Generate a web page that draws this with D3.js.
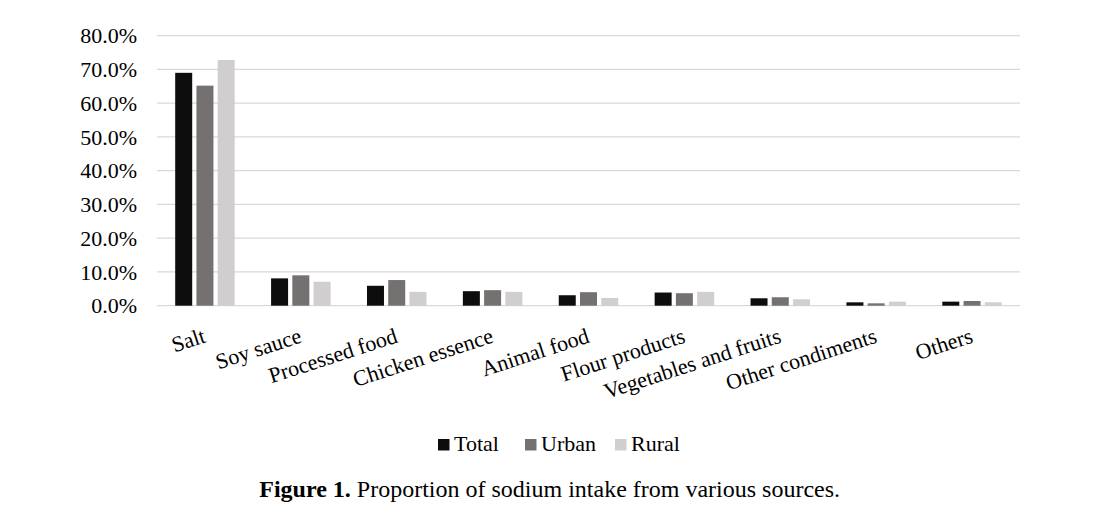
<!DOCTYPE html>
<html><head><meta charset="utf-8">
<script src="https://cdn.jsdelivr.net/npm/d3@7"></script>
<style>body{margin:0;background:#fff}svg{display:block}</style>
</head><body>
<script>
const categories = ["Salt","Soy sauce","Processed food","Chicken essence","Animal food","Flour products","Vegetables and fruits","Other condiments","Others"];
const seriesNames = ["Total","Urban","Rural"];
const total = [69.0, 8.1, 5.9, 4.3, 3.1, 3.9, 2.2, 1.0, 1.2];
const urban = [65.2, 9.0, 7.6, 4.6, 4.0, 3.7, 2.5, 0.7, 1.4];
const rural = [72.8, 7.1, 4.1, 4.1, 2.3, 4.1, 1.9, 1.2, 1.0];
const yTicks = [0,10,20,30,40,50,60,70,80];
const colors = ["#0d0d0d","#767171","#d0cece"];
const caption = {bold:"Figure 1.", rest:" Proportion of sodium intake from various sources."};

const W=1104,H=516;
const svg=d3.select("body").append("svg").attr("width",W).attr("height",H);
const x0=157,x1=1020,yTop=35.7,yBot=305.7;
const x=d3.scaleBand().domain(categories).range([x0,x1]);
const xs=d3.scaleBand().domain(seriesNames).range([0,59.5]).paddingInner(0.2);
const y=d3.scaleLinear().domain([0,80]).range([yBot,yTop]);
const font="'Liberation Serif','Times New Roman',serif";
const fsz=22;

svg.append("g").selectAll("line").data(yTicks).join("line")
 .attr("x1",x0).attr("x2",x1).attr("y1",d=>y(d)).attr("y2",d=>y(d))
 .attr("stroke","#d9d9d9").attr("stroke-width",1.3);
svg.append("g").selectAll("text").data(yTicks).join("text")
 .attr("x",137).attr("y",d=>y(d)).attr("dy","0.35em").attr("text-anchor","end")
 .attr("font-family",font).attr("font-size",fsz).attr("fill","#000")
 .text(d=>d.toFixed(1)+"%");

const data=[total,urban,rural];
const g=svg.append("g");
categories.forEach((c,i)=>{
  const gc=x(c)+x.bandwidth()/2-29.75;
  seriesNames.forEach((s,j)=>{
    const v=data[j][i];
    g.append("rect").attr("x",gc+xs(s)).attr("width",xs.bandwidth())
     .attr("y",y(v)).attr("height",yBot-y(v)).attr("fill",colors[j]);
  });
});

svg.append("g").selectAll("text").data(categories).join("text")
 .attr("text-anchor","end").attr("font-family",font).attr("font-size",fsz)
 .attr("transform",d=>`translate(${x(d)+x.bandwidth()/2+2},342) rotate(-18)`)
 .text(d=>d);

const leg=svg.append("g");
const legX=[438,525,615];
seriesNames.forEach((s,j)=>{
  leg.append("rect").attr("x",legX[j]).attr("y",439).attr("width",11.5).attr("height",11.5).attr("fill",colors[j]);
  leg.append("text").attr("x",legX[j]+16).attr("y",450.5).attr("font-family",font).attr("font-size",fsz).text(s);
});

const capFont="'Liberation Serif','DejaVu Serif',serif";
const cap=svg.append("text").attr("y",497.3).attr("font-family",capFont).attr("font-size",21).attr("fill","#000");
cap.append("tspan").attr("font-weight","bold").text(caption.bold);
cap.append("tspan").text(caption.rest);
const len=cap.node().getComputedTextLength();
cap.attr("font-size",Math.min(21*594/len,24));
const len2=cap.node().getComputedTextLength();
cap.attr("x",252.7+(594-len2)/2);
</script>
</body></html>
